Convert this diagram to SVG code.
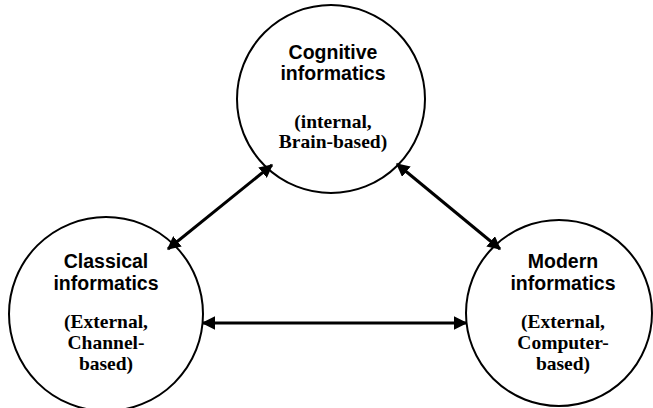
<svg xmlns="http://www.w3.org/2000/svg" width="653" height="408" viewBox="0 0 653 408">
<style>
.c{fill:#fff;stroke:#000;stroke-width:2}
.h{font-family:"Liberation Sans",Arial,sans-serif;font-weight:bold;font-size:19.5px;text-anchor:middle}
.s{font-family:"Liberation Serif","Times New Roman",serif;font-weight:bold;font-size:19.5px;text-anchor:middle}
.e{stroke:#000;stroke-width:3;fill:none;marker-start:url(#a);marker-end:url(#a)}
</style>
<defs>
<marker id="a" viewBox="0 0 10 10" refX="9" refY="5" markerWidth="4.5" markerHeight="4.5" markerUnits="strokeWidth" orient="auto-start-reverse">
<path d="M0,0 L10,5 L0,10 Z" fill="#000"/>
</marker>
</defs>
<rect width="653" height="408" fill="#fff"/>
<g id="cognitive">
<circle class="c" cx="331" cy="99" r="94"/>
<text class="h" x="333" y="59">Cognitive</text>
<text class="h" x="333" y="80">informatics</text>
<text class="s" x="333" y="128">(internal,</text>
<text class="s" x="333" y="148">Brain-based)</text>
</g>
<g id="classical">
<circle class="c" cx="106" cy="314" r="97"/>
<text class="h" x="106" y="268">Classical</text>
<text class="h" x="106" y="290">informatics</text>
<text class="s" x="106" y="328">(External,</text>
<text class="s" x="106" y="349">Channel-</text>
<text class="s" x="106" y="370">based)</text>
</g>
<g id="modern">
<circle class="c" cx="559" cy="313" r="93"/>
<text class="h" x="563" y="268">Modern</text>
<text class="h" x="563" y="290">informatics</text>
<text class="s" x="563" y="328">(External,</text>
<text class="s" x="563" y="349">Computer-</text>
<text class="s" x="563" y="370">based)</text>
</g>
<g id="connectors">
<line class="e" x1="168" y1="249" x2="272" y2="165"/>
<line class="e" x1="397" y1="164" x2="500" y2="249"/>
<line class="e" x1="203" y1="323" x2="466" y2="323"/>
</g>
</svg>
